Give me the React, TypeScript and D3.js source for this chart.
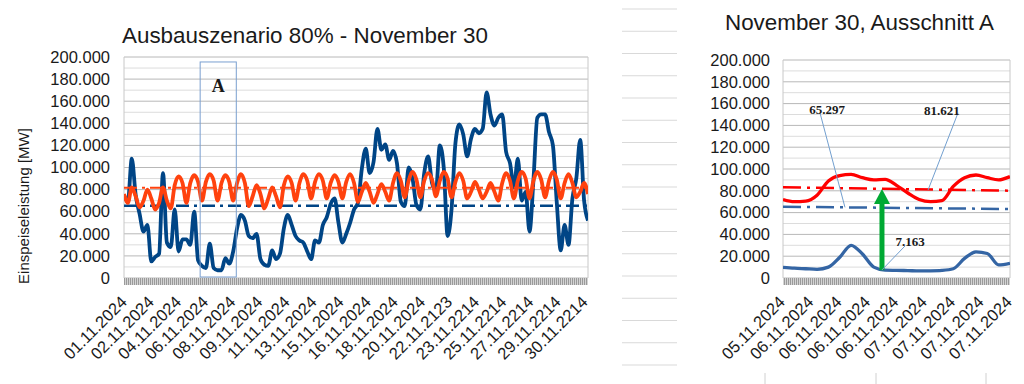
import React from 'react';
import * as d3 from 'd3';

// ---------- data (values in 1000 MW) ----------
// Left chart: 6-hourly samples, 01.11.2024 00:00 ... 30.11.2024 18:00
const feedInBlueK = [
  75, 69, 108, 75, 58, 42, 48, 15, 19, 22,
  95, 32, 28, 62, 24, 35, 35, 30, 60, 16,
  11, 9, 31, 9, 7, 7, 18, 13, 24, 45,
  57, 52, 38, 36, 40, 17, 12, 11, 25, 17,
  22, 45, 57, 48, 38, 34, 32, 24, 17, 34,
  32, 48, 55, 67, 72, 50, 32, 40, 50, 62,
  68, 99, 117, 95, 105, 135, 116, 121, 107, 115,
  104, 69, 65, 100, 90, 66, 62, 95, 110, 86,
  79, 120, 100, 38, 62, 122, 139, 130, 110, 126,
  135, 131, 135, 168, 148, 138, 145, 148, 114, 104,
  82, 108, 70, 78, 42, 88, 145, 148, 148, 132,
  120, 68, 25, 48, 30, 72, 90, 125, 70, 52,
];
const loadOrangeK = [
  76, 68, 82, 74, 64, 70, 80, 72, 62, 68, 82, 70,
  63, 84, 92, 86, 68, 86, 93, 87, 70, 87, 94, 88,
  70, 86, 93, 87, 70, 86, 94, 86, 65, 74, 84, 76,
  63, 72, 82, 74, 64, 84, 92, 86, 70, 86, 94, 88,
  72, 87, 94, 88, 72, 86, 93, 87, 72, 87, 94, 86,
  69, 78, 86, 78, 68, 76, 85, 78, 70, 86, 95, 88,
  73, 88, 96, 89, 73, 88, 95, 89, 74, 88, 96, 90,
  73, 87, 95, 88, 72, 78, 87, 80, 72, 78, 86, 78,
  70, 86, 95, 88, 72, 88, 96, 90, 72, 88, 96, 89,
  73, 88, 96, 89, 72, 86, 94, 86, 73, 78, 86, 76,
];
const avgFeedIn = 65297;
const avgLoad = 81621;
const minFeedIn = 7163;

const leftDateLabels = [
  '01.11.2024', '02.11.2024', '04.11.2024', '06.11.2024', '08.11.2024', '09.11.2024',
  '11.11.2024', '13.11.2024', '15.11.2024', '16.11.2024', '18.11.2024', '20.11.2024',
  '22.11.2123', '23.11.2214', '25.11.2214', '27.11.2214', '29.11.2214', '30.11.2214',
];
const leftLabelHours = [0, 42, 84, 126, 168, 210, 252, 294, 336, 378, 420, 462, 504, 546, 588, 630, 672, 714];
const boxAHours = [118, 174];
const boxATop = 195500;

// Right chart (Ausschnitt A)
const zoomRedK = [72, 70, 70.5, 76, 89, 94, 95, 92, 90, 90.5, 85, 78, 72, 70, 71, 84, 92, 94.5, 92, 90, 93];
const zoomBlueK = [9.8, 9, 8.5, 8, 10, 19, 30, 22, 10, 7.2, 7, 6.8, 6.5, 6.6, 7, 8.5, 18, 24, 22.5, 12, 13.5];
const zoomRedAvgEnds = [83200, 80100];
const zoomBlueAvgEnds = [65400, 63300];
const rightDateLabels = [
  '05.11.2024', '06.11.2024', '06.11.2024', '06.11.2024', '06.11.2024',
  '07.11.2024', '07.11.2024', '07.11.2024', '07.11.2024',
];
const arrowIdx = 8.72;
// annotation: text, label position [idx, value], leader from [idx, value] to [idx, value]
const annotations = [
  { text: '65.297', at: [3.88, 155000], from: [3.26, 151500], to: [5.46, 64800] },
  { text: '81.621', at: [14.0, 154000], from: [15.42, 151500], to: [12.78, 80700] },
  { text: '7.163', at: [11.19, 33900], from: [10.75, 29400], to: [8.72, 7400] },
];

const yTicks = d3.range(0, 200001, 20000);
const yMinor = d3.range(10000, 200000, 20000);

const fmt = (v: number) => d3.format(',')(v).replace(/,/g, '.');

const BLUE = '#004586';
const ORANGE = '#ff420e';
const RED = '#ff0000';
const LBLUE = '#3465a4';
const GREEN = '#00a933';
const FONT = '"Liberation Sans", Arial, sans-serif';
const SERIF = '"Liberation Serif", "Times New Roman", serif';

function Grid({ x0, x1, y }: { x0: number; x1: number; y: d3.ScaleLinear<number, number> }) {
  return (
    <g>
      {yMinor.map((v) => (
        <line key={'m' + v} x1={x0} x2={x1} y1={y(v)} y2={y(v)} stroke="#dcdcdc" strokeWidth={1} />
      ))}
      {yTicks.map((v) => (
        <line key={'g' + v} x1={x0} x2={x1} y1={y(v)} y2={y(v)} stroke="#b8b8b8" strokeWidth={1} />
      ))}
    </g>
  );
}

export default function App() {
  const L = { x0: 124, x1: 588, y0: 278, y1: 57 };
  const R = { x0: 783, x1: 1010, y0: 278, y1: 60 };

  const yL = d3.scaleLinear().domain([0, 200000]).range([L.y0, L.y1]);
  const yR = d3.scaleLinear().domain([0, 200000]).range([R.y0, R.y1]);
  const xIdxL = d3.scaleLinear().domain([0, feedInBlueK.length - 1]).range([L.x0, L.x1]);
  const xHourL = d3.scaleLinear().domain([0, 719]).range([L.x0, L.x1]);
  const xR = d3.scaleLinear().domain([0, zoomBlueK.length - 1]).range([R.x0, R.x1]);
  const xLabR = d3.scalePoint<number>().domain(d3.range(rightDateLabels.length)).range([R.x0, R.x1]);

  const lineL = d3
    .line<number>()
    .x((_, i) => xIdxL(i))
    .y((d) => yL(d * 1000))
    .curve(d3.curveMonotoneX);
  const lineR = d3
    .line<number>()
    .x((_, i) => xR(i))
    .y((d) => yR(d * 1000))
    .curve(d3.curveMonotoneX);

  const stripYs = d3.range(0, 17).map((i) => 9 + i * 22.25);
  const bottomMarks = [765, 876, 986];

  const arrowX = xR(arrowIdx);
  const arrowTop = yR(avgLoad);
  const arrowBottom = yR(minFeedIn);

  return (
    <svg
      width={1024}
      height={384}
      style={{ position: 'absolute', left: 0, top: 0, background: '#fff' }}
      fontFamily={FONT}
    >
      <defs>
        <pattern id="hatch" width={2} height={8} patternUnits="userSpaceOnUse">
          <rect x={0} y={0} width={2} height={8} fill="#d4d4d4" />
          <rect x={0} y={0} width={1} height={8} fill="#9a9a9a" />
        </pattern>
        <clipPath id="clipL">
          <rect x={L.x0} y={L.y1} width={L.x1 - L.x0} height={L.y0 - L.y1} />
        </clipPath>
        <clipPath id="clipR">
          <rect x={R.x0} y={R.y1} width={R.x1 - R.x0} height={R.y0 - R.y1} />
        </clipPath>
      </defs>
      <rect x={0} y={0} width={1024} height={384} fill="#fff" />

      {/* spreadsheet strip lines between charts */}
      {stripYs.map((y) => (
        <line key={'s' + y} x1={622} x2={677} y1={y} y2={y} stroke="#d9d9d9" strokeWidth={1} />
      ))}
      {bottomMarks.map((x) => (
        <line key={'b' + x} x1={x} x2={x} y1={373} y2={384} stroke="#d0d0d0" strokeWidth={1} />
      ))}

      {/* ---------------- LEFT CHART ---------------- */}
      <text x={122} y={43} fontSize={22.4} fill="#1a1a1a">
        Ausbauszenario 80% - November 30
      </text>
      <Grid x0={L.x0} x1={L.x1} y={yL} />
      <line x1={L.x0} x2={L.x0} y1={L.y1} y2={L.y0} stroke="#c8c8c8" />
      <line x1={L.x1} x2={L.x1} y1={L.y1} y2={L.y0} stroke="#c8c8c8" />
      <rect x={L.x0} y={L.y0} width={L.x1 - L.x0} height={7} fill="url(#hatch)" />
      {yTicks.map((v) => (
        <text key={'yl' + v} x={110} y={yL(v)} dy="0.35em" textAnchor="end" fontSize={16.5} fill="#1a1a1a">
          {fmt(v)}
        </text>
      ))}
      <text
        transform={`translate(24,206) rotate(-90)`}
        textAnchor="middle"
        dy="0.35em"
        fontSize={15}
        fill="#1a1a1a"
      >
        Einspeiseleistung [MW]
      </text>
      {leftDateLabels.map((t, i) => (
        <text
          key={'xl' + i}
          transform={`translate(${xHourL(leftLabelHours[i]) + 4},303) rotate(-45)`}
          textAnchor="end"
          fontSize={16.5}
          fill="#1a1a1a"
        >
          {t}
        </text>
      ))}
      <g clipPath="url(#clipL)">
        <line
          x1={L.x0}
          x2={L.x1}
          y1={yL(avgFeedIn)}
          y2={yL(avgFeedIn)}
          stroke={BLUE}
          strokeWidth={2.5}
          strokeDasharray="13,5,3,5"
        />
        <path d={lineL(feedInBlueK) || ''} fill="none" stroke={BLUE} strokeWidth={3.8} strokeLinejoin="round" />
        <path d={lineL(loadOrangeK) || ''} fill="none" stroke={ORANGE} strokeWidth={3.8} strokeLinejoin="round" />
        <line
          x1={L.x0}
          x2={L.x1}
          y1={yL(avgLoad)}
          y2={yL(avgLoad)}
          stroke={ORANGE}
          strokeWidth={2}
          strokeDasharray="13,5,3,5"
        />
      </g>
      <rect
        x={xHourL(boxAHours[0])}
        y={yL(boxATop)}
        width={xHourL(boxAHours[1]) - xHourL(boxAHours[0])}
        height={yL(0) - yL(boxATop) - 1}
        fill="none"
        stroke="#7a9fd0"
        strokeWidth={1}
      />
      <text
        x={(xHourL(boxAHours[0]) + xHourL(boxAHours[1])) / 2}
        y={92}
        textAnchor="middle"
        fontFamily={SERIF}
        fontWeight="bold"
        fontSize={18}
        fill="#1a1a1a"
      >
        A
      </text>

      {/* ---------------- RIGHT CHART ---------------- */}
      <text x={725} y={30} fontSize={22.4} fill="#1a1a1a">
        November 30, Ausschnitt A
      </text>
      <Grid x0={R.x0} x1={R.x1} y={yR} />
      <line x1={R.x0} x2={R.x0} y1={R.y1} y2={R.y0} stroke="#c8c8c8" />
      <line x1={R.x1} x2={R.x1} y1={R.y1} y2={R.y0} stroke="#c8c8c8" />
      <rect x={R.x0} y={R.y0} width={R.x1 - R.x0} height={7} fill="url(#hatch)" />
      {yTicks.map((v) => (
        <text key={'yr' + v} x={770} y={yR(v)} dy="0.35em" textAnchor="end" fontSize={16.5} fill="#1a1a1a">
          {fmt(v)}
        </text>
      ))}
      {rightDateLabels.map((t, i) => (
        <text
          key={'xr' + i}
          transform={`translate(${(xLabR(i) || 0) + 3},303) rotate(-45)`}
          textAnchor="end"
          fontSize={16.5}
          fill="#1a1a1a"
        >
          {t}
        </text>
      ))}
      <g clipPath="url(#clipR)">
        <line
          x1={R.x0}
          x2={R.x1}
          y1={yR(zoomRedAvgEnds[0])}
          y2={yR(zoomRedAvgEnds[1])}
          stroke={RED}
          strokeWidth={2.5}
          strokeDasharray="18,6,3,6"
        />
        <line
          x1={R.x0}
          x2={R.x1}
          y1={yR(zoomBlueAvgEnds[0])}
          y2={yR(zoomBlueAvgEnds[1])}
          stroke={LBLUE}
          strokeWidth={2.5}
          strokeDasharray="18,6,3,6"
        />
        <path d={lineR(zoomRedK) || ''} fill="none" stroke={RED} strokeWidth={3.3} strokeLinejoin="round" />
        <path d={lineR(zoomBlueK) || ''} fill="none" stroke={LBLUE} strokeWidth={3.3} strokeLinejoin="round" />
      </g>
      {/* green arrow */}
      <rect x={arrowX - 2.5} y={arrowTop + 14} width={5} height={arrowBottom - arrowTop - 14} fill={GREEN} />
      <polygon
        points={`${arrowX},${arrowTop} ${arrowX - 8},${arrowTop + 15} ${arrowX + 8},${arrowTop + 15}`}
        fill={GREEN}
      />
      {annotations.map((a) => (
        <g key={a.text}>
          <line
            x1={xR(a.from[0])}
            y1={yR(a.from[1])}
            x2={xR(a.to[0])}
            y2={yR(a.to[1])}
            stroke="#729fcf"
            strokeWidth={1}
          />
          <text
            x={xR(a.at[0])}
            y={yR(a.at[1])}
            dy="0.35em"
            textAnchor="middle"
            fontFamily={SERIF}
            fontWeight="bold"
            fontSize={13}
            fill="#1a1a1a"
          >
            {a.text}
          </text>
        </g>
      ))}
    </svg>
  );
}
